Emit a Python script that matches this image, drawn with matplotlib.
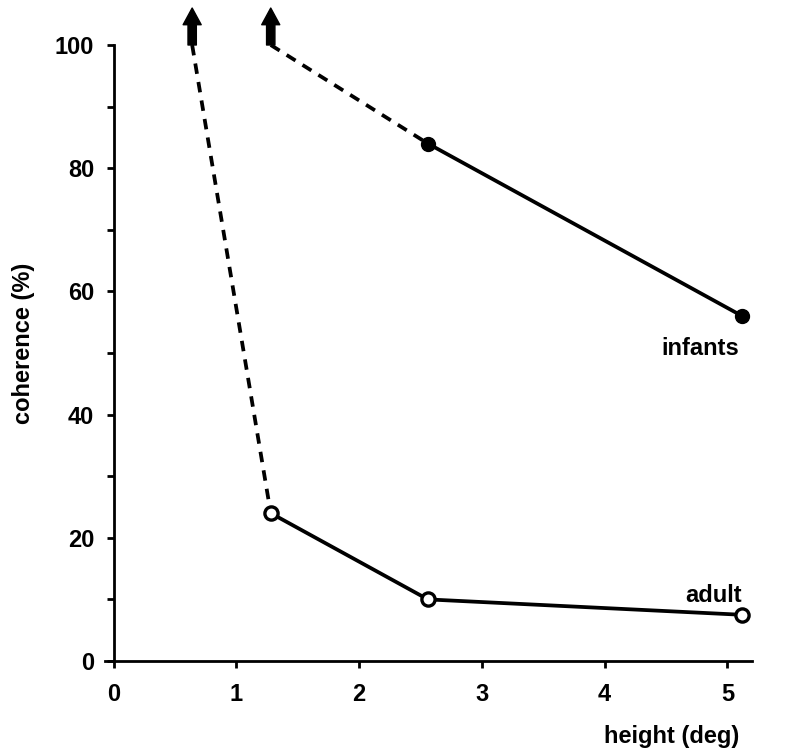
import matplotlib
matplotlib.use("Agg")
import matplotlib.pyplot as plt
from matplotlib.ticker import MultipleLocator

plt.rcParams['font.family'] = ['Liberation Sans', 'DejaVu Sans']
plt.rcParams['font.weight'] = 'bold'
plt.rcParams['axes.labelweight'] = 'bold'

# stimulus heights (deg) and coherence thresholds (%)
height = [0.64, 1.28, 2.56, 5.12]
infants = [None, 100, 84, 56]      # 1.28 deg: threshold above 100%
adult = [100, 24, 10, 7.5]         # 0.64 deg: threshold above 100%
arrow_x = [0.64, 1.28]
arrow_top = 106

fs = 17
fig = plt.figure(figsize=(7.85, 7.52), dpi=100)
ax = fig.add_axes([105 / 785, 1 - 661 / 752, (752 - 105) / 785, (661 - 45) / 752])

lw = 2.7
dash = (2.8, 2.2)

# infants: dashed to the out-of-range point, solid between measured points
ax.plot(height[1:3], infants[1:3], color='k', lw=lw, dashes=dash, zorder=2)
ax.plot(height[2:], infants[2:], color='k', lw=lw, zorder=2)
ax.plot(height[2:], infants[2:], 'o', color='k', ms=10, zorder=3)

# adult
ax.plot(height[0:2], adult[0:2], color='k', lw=lw, dashes=dash, zorder=2)
ax.plot(height[1:], adult[1:], color='k', lw=lw, zorder=2)
ax.plot(height[1:], adult[1:], 'o', mfc='white', mec='k', mew=2.4, ms=9.5, zorder=3)

# arrows: threshold beyond 100%
for x in arrow_x:
    ax.annotate("", xy=(x, arrow_top), xytext=(x, 100), xycoords='data',
                annotation_clip=False,
                arrowprops=dict(arrowstyle="simple,head_length=0.6,head_width=0.65,tail_width=0.3",
                                mutation_scale=20, color='k', shrinkA=0, shrinkB=0))

ax.text(4.78, 49.7, "infants", fontsize=fs, ha='center', va='baseline')
ax.text(4.89, 9.6, "adult", fontsize=fs, ha='center', va='baseline')

ax.set_xlim(-0.07, 5.2)
ax.set_ylim(0, 100)

for s in ['top', 'right']:
    ax.spines[s].set_visible(False)
ax.spines['left'].set_position(('data', 0))
ax.spines['left'].set_bounds(0, 100)
ax.spines['left'].set_linewidth(2)
ax.spines['bottom'].set_linewidth(2)

ax.xaxis.set_major_locator(MultipleLocator(1))
ax.yaxis.set_major_locator(MultipleLocator(20))
ax.yaxis.set_minor_locator(MultipleLocator(10))
ax.tick_params(axis='both', which='both', direction='out', length=5, width=2,
               labelsize=fs, pad=9)
ax.tick_params(axis='x', pad=11)

ax.set_ylabel("coherence (%)", fontsize=fs)
ax.yaxis.set_label_coords(-0.108, 0.515)
ax.set_xlabel("height (deg)", fontsize=fs)
ax.xaxis.set_label_coords(0.981, -0.104)
ax.xaxis.label.set_horizontalalignment('right')

fig.savefig("out.png", dpi=100)
